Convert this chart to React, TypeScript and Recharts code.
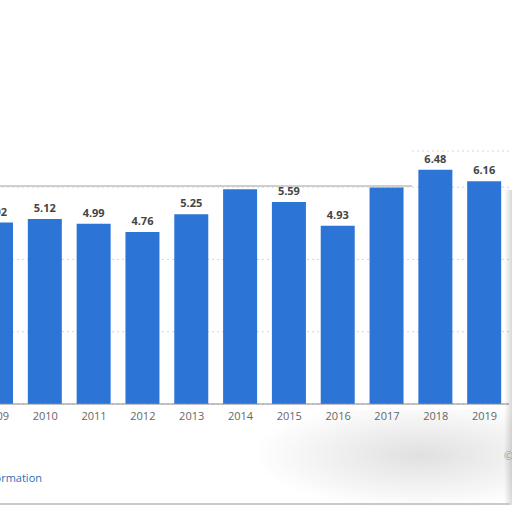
import { BarChart, Bar, XAxis, YAxis, CartesianGrid, LabelList } from 'recharts'

const YEARS = ['2009', '2010', '2011', '2012', '2013', '2014', '2015', '2016', '2017', '2018', '2019']
const VALUES = [5.02, 5.12, 4.99, 4.76, 5.25, 5.94, 5.59, 4.93, 5.99, 6.48, 6.16]
const GRID_TICKS = [0, 2, 4, 6]

const data = YEARS.map((year, i) => ({ year, value: VALUES[i] }))

const FONT = '"Open Sans", "Liberation Sans", sans-serif'

export default function App() {
  return (
    <div
      style={{
        position: 'fixed',
        top: 0,
        left: 0,
        width: 512,
        height: 512,
        overflow: 'hidden',
        background: '#fff',
        fontFamily: FONT,
      }}
    >
      {/* soft shadow blotch, bottom right */}
      <div
        style={{
          position: 'absolute',
          left: 250,
          top: 410,
          width: 262,
          height: 100,
          background: 'radial-gradient(ellipse at 65% 45%, rgba(0,0,0,0.12), rgba(0,0,0,0) 70%)',
        }}
      />
      <div style={{ position: 'absolute', left: -28.5, top: 111 }}>
        <BarChart
          width={537}
          height={323}
          data={data}
          margin={{ top: 40, right: 0, left: 0, bottom: 0 }}
          barSize={34}
        >
          <CartesianGrid vertical={false} stroke="#d6d6d6" strokeDasharray="2 3" />
          <XAxis
            dataKey="year"
            height={30}
            tickLine={false}
            axisLine={{ stroke: '#8a8a8a' }}
            tick={{ fontSize: 11, fill: '#666', fontFamily: FONT }}
            interval={0}
          />
          <YAxis hide domain={[0, 7]} ticks={GRID_TICKS} />
          <Bar dataKey="value" fill="#2c74d6" isAnimationActive={false}>
            <LabelList
              dataKey="value"
              position="top"
              offset={7}
              style={{ fontSize: 11, fontWeight: 700, fill: '#444', fontFamily: FONT }}
            />
          </Bar>
        </BarChart>
      </div>
      {/* frame edge covering the upper part */}
      <div
        style={{
          position: 'absolute',
          left: 0,
          top: 0,
          width: 412,
          height: 185,
          background: '#fff',
          borderBottom: '2px solid #cfcfcf',
        }}
      />
      {/* right edge shadow */}
      <div
        style={{
          position: 'absolute',
          left: 504,
          top: 190,
          width: 8,
          height: 315,
          background: 'linear-gradient(to right, rgba(0,0,0,0), rgba(0,0,0,0.15))',
        }}
      />
      <div
        style={{
          position: 'absolute',
          left: 0,
          top: 503,
          width: 510,
          height: 2,
          background: '#c9c9c9',
        }}
      />
      <div
        style={{
          position: 'absolute',
          right: 470,
          top: 470,
          whiteSpace: 'nowrap',
          fontSize: 11,
          color: '#2a6fb5',
        }}
      >
        Additional Information
      </div>
      <div
        style={{
          position: 'absolute',
          left: 504,
          top: 448,
          whiteSpace: 'nowrap',
          fontSize: 11,
          color: '#999',
        }}
      >
        © Statista
      </div>
    </div>
  )
}
